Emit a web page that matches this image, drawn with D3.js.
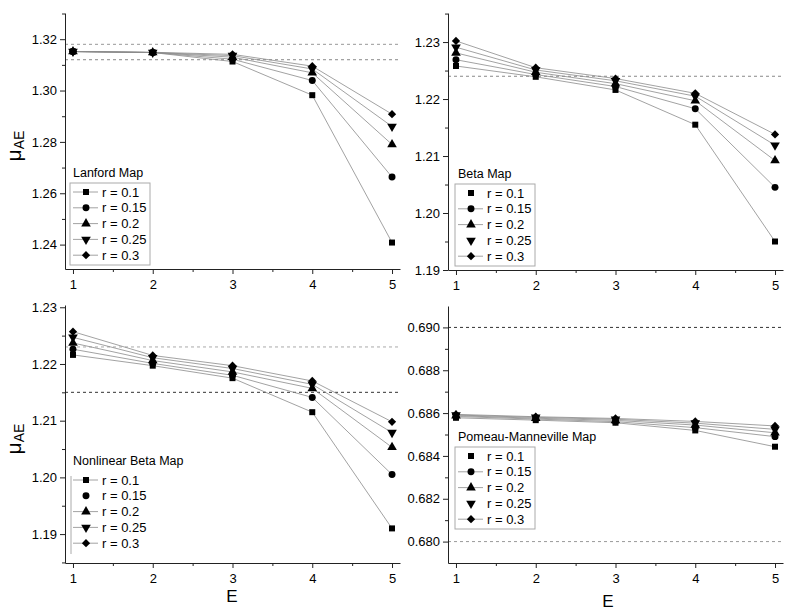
<!DOCTYPE html>
<html>
<head>
<meta charset="utf-8">
<script src="https://cdn.jsdelivr.net/npm/d3@7"></script>
<style>
  body { margin: 0; background: #fff; }
  svg { font-family: "Liberation Sans", Arial, sans-serif; }
</style>
</head>
<body>
<svg width="792" height="613"></svg>
<script>
const E = [1, 2, 3, 4, 5];
const rLabels = ["r = 0.1", "r = 0.15", "r = 0.2", "r = 0.25", "r = 0.3"];
const mapNames = ["Lanford Map", "Beta Map", "Nonlinear Beta Map", "Pomeau-Manneville Map"];

// one row per r value, columns follow E
const lanford = [
  [1.3152, 1.3148, 1.3113, 1.2982, 1.2408],
  [1.3152, 1.3148, 1.3122, 1.3039, 1.2663],
  [1.3152, 1.3148, 1.3130, 1.3069, 1.2790],
  [1.3152, 1.3148, 1.3136, 1.3084, 1.2860],
  [1.3152, 1.3149, 1.3141, 1.3095, 1.2908]
];
const beta = [
  [1.2258, 1.2239, 1.2216, 1.2155, 1.1950],
  [1.2269, 1.2243, 1.2222, 1.2183, 1.2045],
  [1.2281, 1.2247, 1.2227, 1.2197, 1.2092],
  [1.2291, 1.2251, 1.2232, 1.2205, 1.2119],
  [1.2302, 1.2255, 1.2236, 1.2210, 1.2138]
];
const nonlinearBeta = [
  [1.2216, 1.2197, 1.2175, 1.2115, 1.1910],
  [1.2226, 1.2201, 1.2180, 1.2141, 1.2005],
  [1.2237, 1.2206, 1.2186, 1.2157, 1.2053],
  [1.2247, 1.2211, 1.2192, 1.2164, 1.2079],
  [1.2257, 1.2215, 1.2197, 1.2170, 1.2098]
];
const pomeau = [
  [0.68578, 0.68567, 0.68555, 0.68519, 0.68443],
  [0.68584, 0.68572, 0.68560, 0.68532, 0.68490],
  [0.68588, 0.68576, 0.68566, 0.68544, 0.68508],
  [0.68591, 0.68580, 0.68571, 0.68553, 0.68524],
  [0.68594, 0.68583, 0.68575, 0.68561, 0.68540]
];

// dashed reference levels per panel
const refLanford = [1.318, 1.312];
const refBeta = [1.224];
const refNonlinear = [1.223, 1.215];
const refPomeau = [0.690, 0.680];

const ticksLanford = [1.24, 1.26, 1.28, 1.30, 1.32];
const ticksBeta = [1.19, 1.20, 1.21, 1.22, 1.23];
const ticksPomeau = [0.680, 0.682, 0.684, 0.686, 0.688, 0.690];

const svg = d3.select("svg");

const panels = [
  { name: mapNames[0], data: lanford, refs: refLanford, refColors: ["#999", "#888"],
    ticks: ticksLanford, minor: 0.01, fmt: ".2f", domain: [1.2305, 1.3302],
    x0: 65, x1: 400, yTop: 13, yBot: 269, legX: 70, legY: 172, boxed: true, noLine: [], yLabel: true, xLabel: null },
  { name: mapNames[1], data: beta, refs: refBeta, refColors: ["#888"],
    ticks: ticksBeta, minor: 0.005, fmt: ".2f", domain: [1.19, 1.2351],
    x0: 448, x1: 783, yTop: 13, yBot: 270, legX: 455, legY: 173, boxed: true, noLine: [0, 3], yLabel: false, xLabel: null },
  { name: mapNames[2], data: nonlinearBeta, refs: refNonlinear, refColors: ["#aaa", "#333"],
    ticks: ticksBeta, minor: 0.005, fmt: ".2f", domain: [1.1849, 1.2304],
    x0: 65, x1: 400, yTop: 305, yBot: 563, legX: 70, legY: 460, boxed: false, noLine: [1], yLabel: true, xLabel: [232, 602] },
  { name: mapNames[3], data: pomeau, refs: refPomeau, refColors: ["#333", "#999"],
    ticks: ticksPomeau, minor: 0.001, fmt: ".3f", domain: [0.679, 0.691],
    x0: 448, x1: 783, yTop: 306, yBot: 563, legX: 455, legY: 436, boxed: true, noLine: [0, 3], yLabel: false, xLabel: [608, 607] }
];

// marker shapes: square, circle, triangle, inverted triangle, diamond
const shapes = [
  { type: d3.symbolSquare, size: 36, rot: 0 },
  { type: d3.symbolCircle, size: 38, rot: 0 },
  { type: d3.symbolTriangle, size: 40, rot: 0 },
  { type: d3.symbolTriangle, size: 40, rot: 180 },
  { type: d3.symbolSquare, size: 34, rot: 45 }
];

function drawMarker(g, i, x, y) {
  g.append("path")
    .attr("d", d3.symbol().type(shapes[i].type).size(shapes[i].size)())
    .attr("transform", `translate(${x},${y}) rotate(${shapes[i].rot})`)
    .attr("fill", "#000");
}

panels.forEach(p => {
  const x = d3.scaleLinear().domain([0.9, 5.1]).range([p.x0, p.x1]);
  const y = d3.scaleLinear().domain(p.domain).range([p.yBot, p.yTop]);
  const g = svg.append("g");

  // dashed reference lines
  p.refs.forEach((v, i) => {
    g.append("line")
      .attr("x1", p.x0).attr("x2", p.x1)
      .attr("y1", y(v)).attr("y2", y(v))
      .attr("stroke", p.refColors[i])
      .attr("stroke-width", 1)
      .attr("stroke-dasharray", "3,3");
  });

  // x axis, major + minor ticks
  const xMinor = [1.5, 2.5, 3.5, 4.5];
  g.append("g").attr("transform", `translate(0,${p.yBot})`)
    .call(d3.axisBottom(x).tickValues(xMinor).tickSize(3).tickFormat(""))
    .call(a => a.select(".domain").remove());
  const xa = g.append("g").attr("transform", `translate(0,${p.yBot})`)
    .call(d3.axisBottom(x).tickValues(E).tickSize(5).tickSizeOuter(0).tickFormat(d3.format("d")));
  xa.selectAll("text").attr("font-size", "13px").attr("font-family", "Liberation Sans, Arial").attr("dy", "0.9em");

  // y axis, major + minor ticks
  const yMinor = p.ticks.slice(0, -1).map((t, i) => t + p.minor)
    .concat([p.ticks[p.ticks.length - 1] + p.minor, p.ticks[0] - p.minor])
    .filter(v => v > p.domain[0] && v < p.domain[1]);
  g.append("g").attr("transform", `translate(${p.x0},0)`)
    .call(d3.axisLeft(y).tickValues(yMinor).tickSize(3).tickFormat(""))
    .call(a => a.select(".domain").remove());
  const ya = g.append("g").attr("transform", `translate(${p.x0},0)`)
    .call(d3.axisLeft(y).tickValues(p.ticks).tickSize(5).tickSizeOuter(0).tickFormat(d3.format(p.fmt)));
  ya.selectAll("text").attr("font-size", "13px").attr("font-family", "Liberation Sans, Arial");
  g.selectAll(".domain").attr("stroke", "#222");
  g.selectAll(".tick line").attr("stroke", "#222");

  // series lines then markers
  const line = d3.line().x((d, i) => x(E[i])).y(d => y(d));
  p.data.forEach(s => {
    g.append("path").datum(s)
      .attr("d", line)
      .attr("fill", "none")
      .attr("stroke", "#8a8a8a")
      .attr("stroke-width", 0.8);
  });
  p.data.forEach((s, i) => {
    s.forEach((v, j) => drawMarker(g, i, x(E[j]), y(v)));
  });

  // legend
  const leg = g.append("g").attr("transform", `translate(${p.legX},${p.legY})`);
  leg.append("text").attr("x", 3).attr("y", 4.5).attr("font-size", "12.5px").text(p.name);
  const rowH = 15.8, top = 11;
  if (p.boxed) {
    leg.append("rect").attr("x", 0).attr("y", top).attr("width", 80).attr("height", rowH * 5 + 3)
      .attr("fill", "none").attr("stroke", "#aaa").attr("stroke-width", 1);
  } else {
    leg.append("line").attr("x1", 1).attr("x2", 1).attr("y1", top + 5).attr("y2", top + rowH * 5 + 4)
      .attr("stroke", "#aaa");
  }
  rLabels.forEach((lab, i) => {
    const ry = top + 9 + i * rowH;
    if (!p.noLine.includes(i)) {
      leg.append("line").attr("x1", 3).attr("x2", 28).attr("y1", ry).attr("y2", ry)
        .attr("stroke", "#8a8a8a").attr("stroke-width", 0.8);
    }
    drawMarker(leg, i, 16, ry);
    leg.append("text").attr("x", 32).attr("y", ry + 4.5).attr("font-size", "13px").text(lab);
  });

  // axis titles
  if (p.yLabel) {
    const cy = (p.yTop + p.yBot) / 2 + 5;
    const t = g.append("text")
      .attr("transform", `translate(21,${cy}) rotate(-90)`)
      .attr("text-anchor", "middle");
    t.append("tspan").attr("font-size", "21px").text("μ");
    t.append("tspan").attr("font-size", "14px").attr("dy", "3").text("AE");
  }
  if (p.xLabel) {
    g.append("text").attr("x", p.xLabel[0]).attr("y", p.xLabel[1])
      .attr("text-anchor", "middle").attr("font-size", "17px").text("E");
  }
});
</script>
</body>
</html>
